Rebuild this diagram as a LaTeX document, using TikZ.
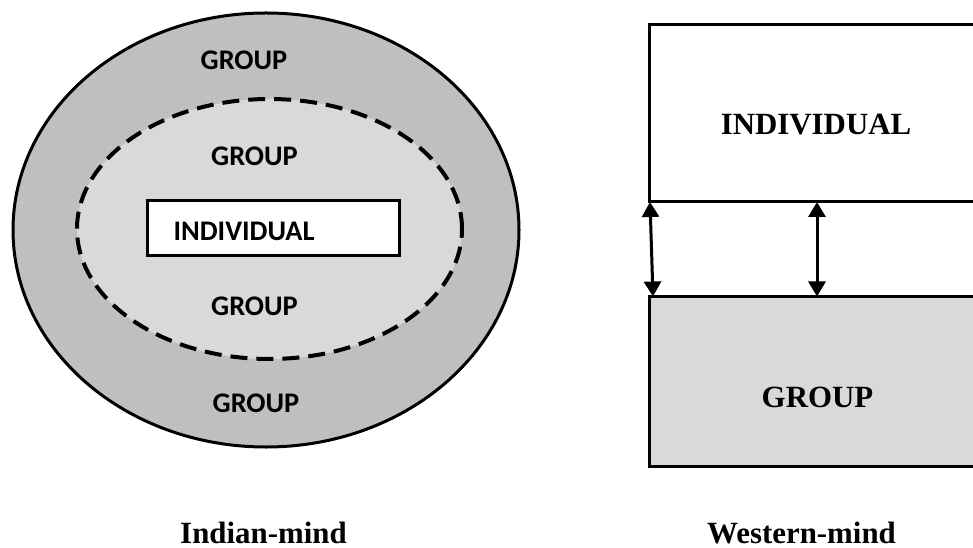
\documentclass[tikz,border=0pt]{standalone}
\usepackage{fontspec}
\setmainfont{Liberation Serif}
\newfontfamily\labelsans{Carlito}
\usetikzlibrary{shapes.geometric,arrows.meta,calc}
\definecolor{outergray}{HTML}{BFBFBF}
\definecolor{innergray}{HTML}{D9D9D9}
\tikzset{
  sanslabel/.style={anchor=base,inner sep=0pt,font=\labelsans\bfseries\fontsize{28.5}{30}\selectfont},
  seriflabel/.style={anchor=base,inner sep=0pt,font=\bfseries\fontsize{31}{33}\selectfont},
  boxshape/.style={draw=black,line width=3bp,rectangle,inner sep=0pt,outer sep=0pt},
  linkarrow/.style={line width=3bp,{Triangle[width=17bp,length=15bp]}-{Triangle[width=17bp,length=15bp]},shorten <=0pt,shorten >=0pt}
}
\begin{document}
\begin{tikzpicture}[x=1bp,y=-1bp]
\clip (0,0) rectangle (973,548);
\useasboundingbox (0,0) rectangle (973,548);
\fill[white] (0,0) rectangle (973,548);
% Indian-mind
\node[ellipse,draw=black,line width=3bp,fill=outergray,minimum width=506bp,minimum height=434bp,inner sep=0pt] (outer) at (266,230) {};
\begin{scope}
\clip (266,230) ellipse [x radius=251.5, y radius=215.5];
\foreach \yy in {18,28,...,448} {
  \foreach \xx in {14,22,...,520} {
    \fill[white,opacity=0.5] (\xx,\yy) circle (0.5);
  }
}
\end{scope}
\node[ellipse,draw=black,line width=4bp,dash pattern=on 17bp off 9bp,fill=innergray,minimum width=385bp,minimum height=260bp,inner sep=0pt] (inner) at (269.5,229) {};
\node[boxshape,fill=white,minimum width=252bp,minimum height=55bp] (indbox) at (273,228.5) {};
\node[sanslabel] (g1) at (244,69.5) {GROUP};
\node[sanslabel] (g2) at (254.5,166) {GROUP};
\node[sanslabel] (ind) at (244,241) {INDIVIDUAL};
\node[sanslabel] (g3) at (254.5,316) {GROUP};
\node[sanslabel] (g4) at (256,412) {GROUP};
\node[seriflabel] (capL) at (263.5,543) {Indian-mind};
% Western-mind
\node[boxshape,fill=white,minimum width=334bp,minimum height=177.5bp] (wind) at (816,113.25) {};
\node[boxshape,fill=innergray,minimum width=334bp,minimum height=169.5bp] (wgrp) at (816,381.25) {};
\node[seriflabel] (windt) at (816,135) {INDIVIDUAL};
\node[seriflabel] (wgrpt) at (817.5,407) {GROUP};
\coordinate (a1) at ($(wind.south west)+(1,0)$);
\coordinate (b1) at ($(wgrp.north west)+(4,0)$);
\coordinate (a2) at ($(wind.south west)+(168,0)$);
\coordinate (b2) at ($(wgrp.north west)+(168,0)$);
\draw[linkarrow] (a1) -- (b1);
\draw[linkarrow] (a2) -- (b2);
\node[seriflabel] (capR) at (801.5,543) {Western-mind};
\end{tikzpicture}
\end{document}
